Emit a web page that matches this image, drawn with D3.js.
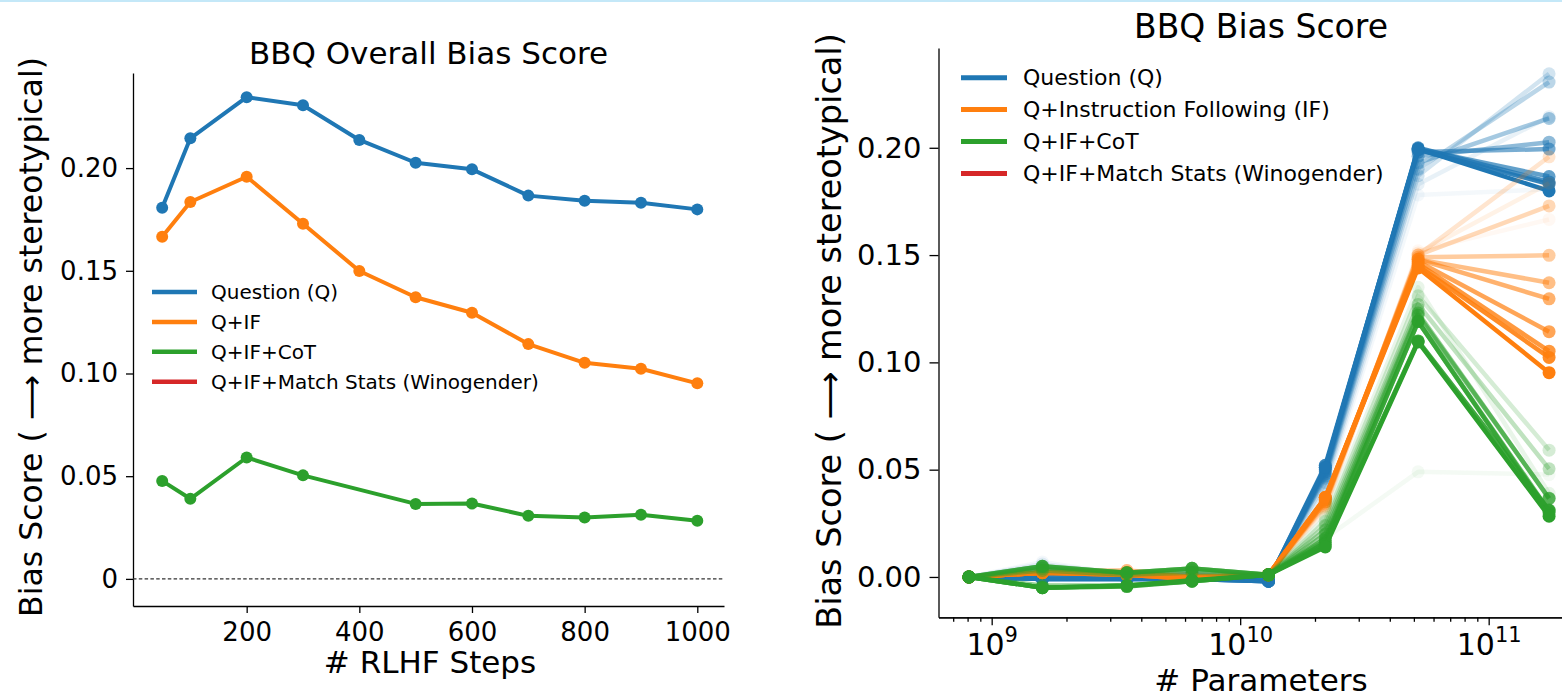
<!DOCTYPE html>
<html>
<head>
<meta charset="utf-8">
<script src="https://cdn.jsdelivr.net/npm/d3@7"></script>
<style>
  html, body { margin: 0; padding: 0; background: #fff; }
  svg { display: block; font-family: 'DejaVu Sans', sans-serif; }
</style>
</head>
<body>
<div id="chart"></div>
<script>
// ---- data ----
const rlhfSteps = [50, 100, 200, 300, 400, 500, 600, 700, 800, 900, 1000]
const overallQ = [0.1807, 0.2145, 0.2345, 0.2306, 0.2137, 0.2026, 0.1994, 0.1866, 0.1841, 0.1831, 0.1799]
const overallIF = [0.1666, 0.1835, 0.1958, 0.1729, 0.1499, 0.1371, 0.1296, 0.1143, 0.1052, 0.1023, 0.0952]
const overallCoT = [0.0477, 0.0390, 0.0591, 0.0504, null, 0.0365, 0.0367, 0.0307, 0.0299, 0.0312, 0.0283]

const namesLeft = ['Question (Q)', 'Q+IF', 'Q+IF+CoT', 'Q+IF+Match Stats (Winogender)']
const namesRight = ['Question (Q)', 'Q+Instruction Following (IF)', 'Q+IF+CoT', 'Q+IF+Match Stats (Winogender)']
const colors = ['#1f77b4', '#ff7f0e', '#2ca02c', '#d62728']

// model sizes (# parameters); one row per RLHF step checkpoint
const modelParams = [8.1e8, 1.6e9, 3.5e9, 6.4e9, 1.3e10, 2.2e10, 5.2e10, 1.75e11]
const sizeQ = [
  [0.000, 0.007, 0.001, 0.002, 0.000, 0.040, 0.178, 0.1807],
  [0.000, 0.006, 0.001, 0.003, 0.000, 0.042, 0.183, 0.2145],
  [0.000, 0.005, 0.000, 0.002, -0.001, 0.044, 0.187, 0.2345],
  [0.000, 0.004, 0.000, 0.001, -0.001, 0.046, 0.190, 0.2306],
  [0.000, 0.003, 0.000, 0.001, -0.001, 0.047, 0.193, 0.2137],
  [0.000, 0.002, -0.001, 0.000, -0.001, 0.048, 0.196, 0.2026],
  [0.000, 0.001, -0.001, 0.000, -0.002, 0.049, 0.198, 0.1994],
  [0.000, 0.000, -0.001, 0.000, -0.002, 0.050, 0.1995, 0.1866],
  [0.000, -0.001, -0.001, -0.001, -0.002, 0.051, 0.200, 0.1841],
  [0.000, -0.001, -0.001, -0.001, -0.002, 0.052, 0.199, 0.1831],
  [0.000, -0.001, -0.001, -0.001, -0.002, 0.051, 0.1995, 0.1799]
]
const sizeIF = [
  [0.000, 0.003, 0.003, 0.001, 0.001, 0.031, 0.152, 0.1666],
  [0.000, 0.003, 0.003, 0.001, 0.001, 0.032, 0.151, 0.1835],
  [0.000, 0.003, 0.003, 0.001, 0.001, 0.033, 0.150, 0.1958],
  [0.000, 0.002, 0.003, 0.000, 0.001, 0.034, 0.150, 0.1729],
  [0.000, 0.002, 0.002, 0.000, 0.001, 0.035, 0.149, 0.1499],
  [0.000, 0.002, 0.002, 0.000, 0.001, 0.035, 0.148, 0.1371],
  [0.000, 0.002, 0.002, 0.000, 0.001, 0.036, 0.148, 0.1296],
  [0.000, 0.002, 0.002, 0.000, 0.001, 0.036, 0.147, 0.1143],
  [0.000, 0.002, 0.001, 0.000, 0.001, 0.037, 0.146, 0.1052],
  [0.000, 0.002, 0.001, -0.001, 0.001, 0.037, 0.145, 0.1023],
  [0.000, 0.002, 0.001, -0.001, 0.001, 0.037, 0.144, 0.0952]
]
const sizeCoT = [
  [0.000, 0.002, 0.001, 0.003, 0.001, 0.018, 0.049, 0.0477],
  [0.000, 0.003, 0.001, 0.003, 0.001, 0.028, 0.135, 0.0390],
  [0.000, 0.004, 0.002, 0.004, 0.001, 0.026, 0.131, 0.0591],
  [0.000, 0.004, 0.002, 0.003, 0.001, 0.024, 0.127, 0.0504],
  [0.000, 0.003, 0.001, 0.002, 0.001, 0.022, 0.125, null],
  [0.000, -0.004, -0.004, -0.002, 0.001, 0.020, 0.123, 0.0365],
  [0.000, 0.005, 0.002, 0.004, 0.001, 0.018, 0.122, 0.0367],
  [0.000, -0.005, -0.004, -0.002, 0.001, 0.017, 0.119, 0.0307],
  [0.000, 0.005, 0.002, 0.004, 0.001, 0.016, 0.119, 0.0299],
  [0.000, -0.005, -0.0045, -0.002, 0.001, 0.015, 0.110, 0.0312],
  [0.000, -0.005, -0.004, -0.0015, 0.001, 0.014, 0.1095, 0.0283]
]

const yTicks = [0, 0.05, 0.10, 0.15, 0.20]
const xTicksLeft = [200, 400, 600, 800, 1000]
const xTicksRight = [1e9, 1e10, 1e11]

// ---- page ----
const width = 1562
const height = 698

const svg = d3.select('#chart').append('svg')
  .attr('width', width)
  .attr('height', height)

svg.append('line')
  .attr('x1', 0).attr('x2', width)
  .attr('y1', 1).attr('y2', 1)
  .attr('stroke', '#c4e8f8')
  .attr('stroke-width', 2)

const styleAxis = (g, size) => {
  g.attr('font-family', "'DejaVu Sans', sans-serif")
    .attr('font-size', size)
  g.selectAll('.tick text').attr('fill', '#000')
  g.selectAll('.tick line').attr('stroke', '#000').attr('stroke-width', 1.3)
  g.select('.domain').attr('stroke', '#000').attr('stroke-width', 1.3)
}

// ================= left: overall bias vs RLHF steps =================
const xL = d3.scaleLinear().domain([-1.8, 1047.4]).range([133, 724])
const yL = d3.scaleLinear().domain([-0.0132, 0.2463]).range([606, 73])

const left = svg.append('g')

left.append('g')
  .attr('transform', 'translate(0,606)')
  .call(d3.axisBottom(xL).tickValues(xTicksLeft).tickSize(7).tickSizeOuter(0)
    .tickFormat(d3.format('d')))
  .call(g => styleAxis(g, 26))
  .call(g => g.selectAll('.tick text').attr('y', 35).attr('dy', 0))

left.append('g')
  .attr('transform', 'translate(133,0)')
  .call(d3.axisLeft(yL).tickValues(yTicks).tickSize(7).tickSizeOuter(0).tickPadding(8)
    .tickFormat(d => d === 0 ? '0' : d.toFixed(2)))
  .call(g => styleAxis(g, 26))

left.append('line')
  .attr('x1', xL.range()[0]).attr('x2', xL.range()[1])
  .attr('y1', yL(0)).attr('y2', yL(0))
  .attr('stroke', '#333')
  .attr('stroke-width', 1.3)
  .attr('stroke-dasharray', '3.5,2.3')

const lineL = d3.line()
  .x(d => xL(d.x))
  .y(d => yL(d.v))

const overall = [overallQ, overallIF, overallCoT]
overall.forEach((vals, i) => {
  // missing checkpoints are skipped, the line joins its neighbours
  const pts = rlhfSteps.map((x, j) => ({ x, v: vals[j] })).filter(d => d.v != null)
  left.append('path')
    .datum(pts)
    .attr('d', lineL)
    .attr('fill', 'none')
    .attr('stroke', colors[i])
    .attr('stroke-width', 4)
    .attr('stroke-linejoin', 'round')
  left.append('g')
    .selectAll('circle')
    .data(pts)
    .enter()
    .append('circle')
    .attr('cx', d => xL(d.x))
    .attr('cy', d => yL(d.v))
    .attr('r', 6)
    .attr('fill', colors[i])
})

left.append('text')
  .attr('x', 428.5).attr('y', 64)
  .attr('text-anchor', 'middle')
  .attr('font-size', 31)
  .text('BBQ Overall Bias Score')

left.append('text')
  .attr('x', 430).attr('y', 673)
  .attr('text-anchor', 'middle')
  .attr('font-size', 31)
  .text('# RLHF Steps')

left.append('text')
  .attr('transform', 'translate(42,337) rotate(-90)')
  .attr('text-anchor', 'middle')
  .attr('font-size', 31.5)
  .text('Bias Score ( \u27F6 more stereotypical)')

const legendL = left.append('g')
namesLeft.forEach((name, i) => {
  const y = 292 + i * 29.9
  legendL.append('line')
    .attr('x1', 152).attr('x2', 197)
    .attr('y1', y).attr('y2', y)
    .attr('stroke', colors[i])
    .attr('stroke-width', 4.5)
  legendL.append('text')
    .attr('x', 211).attr('y', y)
    .attr('dy', '0.35em')
    .attr('font-size', 20)
    .text(name)
})

// ================= right: bias vs model size =================
const xR = d3.scaleLog()
  .domain([10 ** 8.786, 10 ** 11.36])
  .range([938.5, 938.5 + (11.36 - 8.786) * 248.5])
const yR = d3.scaleLinear().domain([-0.0188, 0.2465]).range([617.3, 48])

const right = svg.append('g')

const minorTicks = xR.ticks().filter(d => !xTicksRight.includes(d))
right.append('g')
  .attr('transform', 'translate(0,617.3)')
  .call(d3.axisBottom(xR).tickValues(minorTicks).tickSize(4.5).tickSizeOuter(0).tickFormat(''))
  .call(g => styleAxis(g, 28))

right.append('g')
  .attr('transform', 'translate(0,617.3)')
  .call(d3.axisBottom(xR).tickValues(xTicksRight).tickSize(8).tickSizeOuter(0))
  .call(g => styleAxis(g, 30))
  .call(g => g.selectAll('.tick text').each(function (d) {
    const t = d3.select(this)
    t.text(null).attr('y', 38).attr('dy', 0)
    t.append('tspan').text('10')
    t.append('tspan').attr('dy', -13).attr('font-size', 21).text(Math.round(Math.log10(d)))
  }))

right.append('g')
  .attr('transform', 'translate(938.5,0)')
  .call(d3.axisLeft(yR).tickValues(yTicks).tickSize(9).tickSizeOuter(0).tickPadding(8)
    .tickFormat(d => d.toFixed(2)))
  .call(g => styleAxis(g, 29))

const lineR = d3.line()
  .defined(d => d.v != null)
  .x(d => xR(d.x))
  .y(d => yR(d.v))

const bySize = [sizeQ, sizeIF, sizeCoT]
bySize.forEach((rows, i) => {
  rows.forEach((row, k) => {
    const alpha = rlhfSteps[k] / 1000
    const pts = modelParams.map((x, j) => ({ x, v: row[j] }))
    const g = right.append('g')
    g.append('path')
      .datum(pts)
      .attr('d', lineR)
      .attr('fill', 'none')
      .attr('stroke', colors[i])
      .attr('stroke-opacity', alpha)
      .attr('stroke-width', 4.5)
      .attr('stroke-linejoin', 'round')
    g.selectAll('circle')
      .data(pts.filter(d => d.v != null))
      .enter()
      .append('circle')
      .attr('cx', d => xR(d.x))
      .attr('cy', d => yR(d.v))
      .attr('r', 6.5)
      .attr('fill', colors[i])
      .attr('fill-opacity', alpha)
  })
})

right.append('text')
  .attr('x', 1261).attr('y', 38)
  .attr('text-anchor', 'middle')
  .attr('font-size', 33)
  .text('BBQ Bias Score')

right.append('text')
  .attr('x', 1261).attr('y', 691)
  .attr('text-anchor', 'middle')
  .attr('font-size', 31)
  .text('# Parameters')

right.append('text')
  .attr('transform', 'translate(841,331) rotate(-90)')
  .attr('text-anchor', 'middle')
  .attr('font-size', 33.5)
  .text('Bias Score ( \u27F6 more stereotypical)')

const legendR = right.append('g')
namesRight.forEach((name, i) => {
  const y = 77.7 + i * 31.9
  legendR.append('line')
    .attr('x1', 961).attr('x2', 1007)
    .attr('y1', y).attr('y2', y)
    .attr('stroke', colors[i])
    .attr('stroke-width', 5)
  legendR.append('text')
    .attr('x', 1023).attr('y', y)
    .attr('dy', '0.35em')
    .attr('font-size', 22)
    .text(name)
})
</script>
</body>
</html>
